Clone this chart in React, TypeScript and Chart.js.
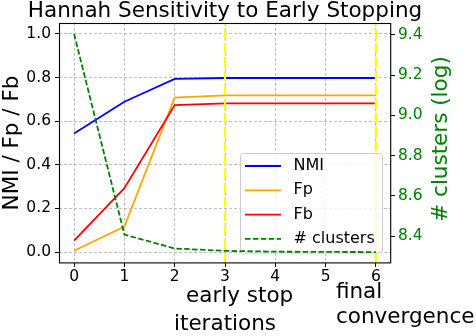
import React, { useEffect, useRef } from "react";
import { Chart, registerables } from "chart.js";

Chart.register(...registerables);

const iterations = [0, 1, 2, 3, 4, 5, 6];
const nmiValues = [0.544, 0.689, 0.794, 0.798, 0.798, 0.798, 0.798];
const fpValues = [0.006, 0.117, 0.708, 0.718, 0.718, 0.718, 0.718];
const fbValues = [0.052, 0.293, 0.674, 0.682, 0.682, 0.682, 0.682];
const clusterLogValues = [9.405, 8.408, 8.339, 8.327, 8.323, 8.322, 8.321];

const xTickValues = [0, 1, 2, 3, 4, 5, 6];
const leftTickValues = [0, 0.2, 0.4, 0.6, 0.8, 1.0];
const rightTickValues = [8.4, 8.6, 8.8, 9.0, 9.2, 9.4];

const earlyStopIteration = 3;
const finalIteration = 6;

const seriesLabels = ["NMI", "Fp", "Fb", "# clusters"];
const titleText = "Hannah Sensitivity to Early Stopping";
const leftAxisTitle = "NMI / Fp / Fb";
const rightAxisTitle = "# clusters (log)";
const xAxisTitle = "iterations";
const earlyStopLabel = "early stop";
const finalLabelLines = ["final", "convergence"];

const FONT = "DejaVu Sans";
const GREEN = "#008000";
const CLUSTER_DASH = [5.5, 2.4];

function drawLegend(chart: any) {
  const { ctx } = chart;
  ctx.save();
  const lx = 240.5, ly = 153.5, lw = 142, lh = 99.5, r = 3;
  ctx.beginPath();
  ctx.moveTo(lx + r, ly);
  ctx.lineTo(lx + lw - r, ly);
  ctx.arcTo(lx + lw, ly, lx + lw, ly + r, r);
  ctx.lineTo(lx + lw, ly + lh - r);
  ctx.arcTo(lx + lw, ly + lh, lx + lw - r, ly + lh, r);
  ctx.lineTo(lx + r, ly + lh);
  ctx.arcTo(lx, ly + lh, lx, ly + lh - r, r);
  ctx.lineTo(lx, ly + r);
  ctx.arcTo(lx, ly, lx + r, ly, r);
  ctx.closePath();
  ctx.fillStyle = "rgba(255,255,255,0.8)";
  ctx.fill();
  ctx.strokeStyle = "#cccccc";
  ctx.lineWidth = 1;
  ctx.stroke();

  const entries = chart.data.datasets
    .filter((d: any) => d.label)
    .sort((p: any, q: any) => seriesLabels.indexOf(p.label) - seriesLabels.indexOf(q.label));
  ctx.font = `16px "${FONT}"`;
  ctx.textAlign = "left";
  ctx.textBaseline = "middle";
  entries.forEach((d: any, i: number) => {
    const y = 166 + i * 24.3;
    ctx.beginPath();
    ctx.strokeStyle = d.borderColor;
    ctx.lineWidth = d.borderWidth;
    ctx.setLineDash(d.borderDash || []);
    ctx.moveTo(245, y);
    ctx.lineTo(281, y);
    ctx.stroke();
    ctx.setLineDash([]);
    ctx.fillStyle = "#000";
    ctx.fillText(d.label, 293.5, y);
  });
  ctx.restore();
}

const overlayPlugin = {
  id: "overlay",
  beforeDatasetDraw(chart: any, args: any) {
    if (args.index === 0) drawLegend(chart);
  },
  afterDraw(chart: any) {
    const { ctx, chartArea: a, scales } = chart;
    ctx.save();
    ctx.strokeStyle = "#000";
    ctx.lineWidth = 1.1;
    ctx.setLineDash([]);
    ctx.strokeRect(a.left + 0.5, a.top + 0.5, a.right - a.left - 0.8, a.bottom - a.top - 0.6);

    ctx.textBaseline = "alphabetic";
    ctx.font = `21.5px "${FONT}"`;
    ctx.fillStyle = "#000";
    ctx.textAlign = "center";
    const cx = (a.left + a.right) / 2;
    ctx.fillText(titleText, cx, a.top - 6.5);
    ctx.fillText(xAxisTitle, cx, a.bottom + 67);

    ctx.textAlign = "left";
    const xe = scales.x.getPixelForValue(earlyStopIteration);
    ctx.fillText(earlyStopLabel, xe - 39, a.bottom + 39);
    const xf = scales.x.getPixelForValue(finalIteration);
    ctx.fillText(finalLabelLines[0], xf - 40, a.bottom + 35.3);
    ctx.fillText(finalLabelLines[1], xf - 40, a.bottom + 60.3);

    ctx.textAlign = "center";
    ctx.save();
    ctx.translate(17.5, (a.top + a.bottom) / 2);
    ctx.rotate(-Math.PI / 2);
    ctx.fillText(leftAxisTitle, 0, 0);
    ctx.restore();

    ctx.save();
    ctx.fillStyle = GREEN;
    ctx.translate(446.5, (a.top + a.bottom) / 2 - 4);
    ctx.rotate(-Math.PI / 2);
    ctx.fillText(rightAxisTitle, 0, 0);
    ctx.restore();

    ctx.restore();
  },
};

const toPoints = (vals: number[]) => iterations.map((x, i) => ({ x, y: vals[i] }));

export default function App() {
  const ref = useRef<HTMLCanvasElement | null>(null);
  useEffect(() => {
    if (!ref.current) return;
    const leftMin = -0.05, leftMax = 1.05;
    const cMin = Math.min(...clusterLogValues), cMax = Math.max(...clusterLogValues);
    const cPad = (cMax - cMin) * 0.05;
    const chart = new Chart(ref.current, {
      type: "line",
      data: {
        datasets: [
          {
            label: seriesLabels[3],
            data: toPoints(clusterLogValues),
            yAxisID: "y1",
            borderColor: GREEN,
            borderWidth: 1.8,
            borderDash: CLUSTER_DASH,
            pointRadius: 0,
            order: 0,
          },
          {
            label: "",
            data: [{ x: earlyStopIteration, y: leftMin }, { x: earlyStopIteration, y: leftMax }],
            yAxisID: "y",
            borderColor: "#ffff00",
            borderWidth: 2.2,
            borderDash: [10, 4],
            pointRadius: 0,
            order: 1,
          },
          {
            label: "",
            data: [{ x: finalIteration, y: leftMin }, { x: finalIteration, y: leftMax }],
            yAxisID: "y",
            borderColor: "#ffff00",
            borderWidth: 2.2,
            borderDash: [10, 4],
            pointRadius: 0,
            order: 1,
          },
          {
            label: seriesLabels[2],
            data: toPoints(fbValues),
            yAxisID: "y",
            borderColor: "#ff0000",
            borderWidth: 1.8,
            pointRadius: 0,
            order: 2,
          },
          {
            label: seriesLabels[1],
            data: toPoints(fpValues),
            yAxisID: "y",
            borderColor: "#ffa500",
            borderWidth: 1.8,
            pointRadius: 0,
            order: 3,
          },
          {
            label: seriesLabels[0],
            data: toPoints(nmiValues),
            yAxisID: "y",
            borderColor: "#0000ff",
            borderWidth: 1.8,
            pointRadius: 0,
            order: 4,
          },
        ],
      } as any,
      options: {
        animation: false,
        responsive: false,
        devicePixelRatio: 1,
        layout: { padding: { top: 23, left: 0, right: 0, bottom: 0 } },
        plugins: { legend: { display: false }, title: { display: false }, tooltip: { enabled: false } },
        elements: { line: { tension: 0 } },
        scales: {
          x: {
            type: "linear",
            min: -0.3,
            max: 6.3,
            afterBuildTicks: (s: any) => {
              s.ticks = xTickValues.map((v) => ({ value: v }));
            },
            afterFit: (s: any) => {
              s.height = 73;
            },
            grid: { color: "#b0b0b0", lineWidth: 0.8, tickColor: "#000", tickLength: 4, tickWidth: 1 },
            border: { display: false, dash: [3, 2] },
            ticks: { padding: 1, color: "#000", font: { family: FONT, size: 15.5, lineHeight: 1.2 }, maxRotation: 0, autoSkip: false },
          },
          y: {
            type: "linear",
            position: "left",
            min: leftMin,
            max: leftMax,
            afterBuildTicks: (s: any) => {
              s.ticks = leftTickValues.map((v) => ({ value: v }));
            },
            afterFit: (s: any) => {
              s.width = 59;
            },
            grid: { color: "#b0b0b0", lineWidth: 0.8, tickColor: "#000", tickLength: 4, tickWidth: 1 },
            border: { display: false, dash: [3, 2] },
            ticks: {
              padding: 4,
              color: "#000",
              font: { family: FONT, size: 15.5 },
              callback: (v: any) => Number(v).toFixed(1),
            },
          },
          y1: {
            type: "linear",
            position: "right",
            min: cMin - cPad,
            max: cMax + cPad,
            afterBuildTicks: (s: any) => {
              s.ticks = rightTickValues.map((v) => ({ value: v }));
            },
            afterFit: (s: any) => {
              s.width = 85;
            },
            grid: { drawOnChartArea: false, tickColor: "#000", tickLength: 4, tickWidth: 1 },
            border: { display: false },
            ticks: {
              padding: 3,
              color: GREEN,
              font: { family: FONT, size: 15.5 },
              callback: (v: any) => Number(v).toFixed(1),
            },
          },
        },
      } as any,
      plugins: [overlayPlugin],
    });
    return () => chart.destroy();
  }, []);
  return (
    <div style={{ position: "absolute", left: 0, top: 0, width: 476, height: 336, background: "#fff" }}>
      <canvas ref={ref} width={476} height={336} style={{ width: 476, height: 336, display: "block" }} />
    </div>
  );
}
